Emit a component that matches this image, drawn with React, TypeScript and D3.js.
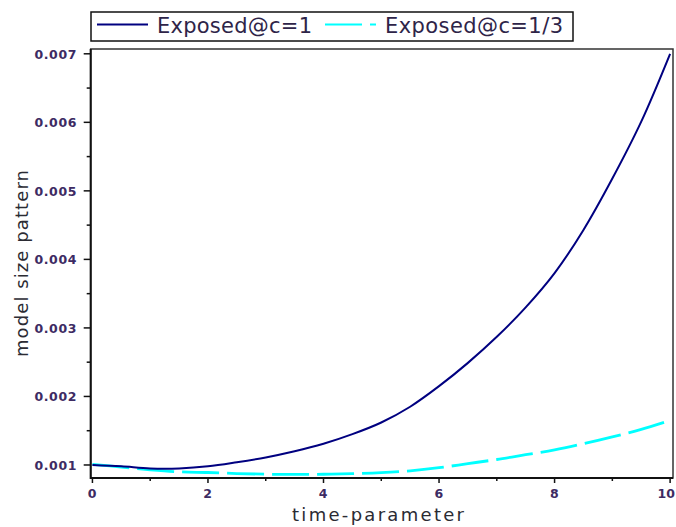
import * as d3 from 'd3';

// time-parameter sample points
const tValues = [0, 0.5, 1, 1.5, 2, 2.5, 3, 3.5, 4, 4.5, 5, 5.5, 6, 6.5, 7, 7.5, 8, 8.5, 9, 9.5, 10];
// Exposed@c=1
const exposedC1 = [
  0.001, 0.00098, 0.00095, 0.00095, 0.00098, 0.00104, 0.00111, 0.0012, 0.00131, 0.00145, 0.00162,
  0.00185, 0.00215, 0.00249, 0.00287, 0.0033, 0.0038, 0.00443, 0.00518, 0.00601, 0.007,
];
// Exposed@c=1/3
const exposedC13 = [
  0.00101, 0.00097, 0.00093, 0.0009, 0.00089, 0.000875, 0.000865, 0.000862, 0.000865, 0.000873, 0.000888,
  0.000915, 0.00096, 0.00102, 0.00108, 0.00115, 0.00122, 0.00131, 0.00141, 0.00152, 0.00165,
];
const seriesNames = ['Exposed@c=1', 'Exposed@c=1/3'];
const xTicks = [0, 2, 4, 6, 8, 10];
const xMinorTicks = [1, 3, 5, 7, 9];
const yTicks = [0.001, 0.002, 0.003, 0.004, 0.005, 0.006, 0.007];
const yMinorTicks = [0.0015, 0.0025, 0.0035, 0.0045, 0.0055, 0.0065];

const W = 676;
const H = 527;
const plot = { left: 90.7, right: 673, top: 49, bottom: 478 };
const navy = '#000080';
const cyan = '#00ffff';
const tickColor = '#3d2b63';
const font = '"DejaVu Sans", Verdana, sans-serif';

export default function App() {
  const x = d3.scaleLinear().domain([-0.03, 10.05]).range([plot.left, plot.right]);
  const y = d3.scaleLinear().domain([0.00081, 0.00707]).range([plot.bottom, plot.top]);

  const line = d3
    .line<number>()
    .x((_, i) => x(tValues[i]))
    .y((d) => y(d))
    .curve(d3.curveCatmullRom.alpha(0.5));

  return (
    <svg
      width={W}
      height={H}
      style={{ position: 'absolute', left: 0, top: 0, background: '#fff' }}
      fontFamily={font}
    >
      {/* legend */}
      <rect x={91} y={12} width={482} height={29} fill="#fff" stroke="#111" strokeWidth={1.5} />
      <line x1={97} x2={148} y1={24.5} y2={24.5} stroke={navy} strokeWidth={2} />
      <text x={157} y={33} fontSize={21} fill="#2e2448" textLength={155} lengthAdjust="spacing">
        {seriesNames[0]}
      </text>
      <line x1={325} x2={376} y1={24.5} y2={24.5} stroke={cyan} strokeWidth={2} strokeDasharray="37,8" />
      <text x={385} y={33} fontSize={21} fill="#2e2448" textLength={178} lengthAdjust="spacing">
        {seriesNames[1]}
      </text>

      {/* frame */}
      <rect
        x={plot.left}
        y={plot.top}
        width={plot.right - plot.left}
        height={plot.bottom - plot.top}
        fill="#fff"
        stroke="#333"
        strokeWidth={1.5}
      />
      <line x1={plot.left} x2={plot.left} y1={plot.top} y2={plot.bottom + 1} stroke="#111" strokeWidth={2} />
      <line x1={plot.left} x2={plot.right} y1={plot.bottom} y2={plot.bottom} stroke="#111" strokeWidth={2} />

      {/* y ticks */}
      {yTicks.map((t) => (
        <g key={t}>
          <line x1={plot.left - 7} x2={plot.left} y1={y(t)} y2={y(t)} stroke="#111" strokeWidth={1.5} />
          <text
            x={77}
            y={y(t) + 5}
            textAnchor="end"
            fontSize={12.5}
            fontWeight="bold"
            fill={tickColor}
            letterSpacing={0.6}
          >
            {d3.format('.3f')(t)}
          </text>
        </g>
      ))}
      {yMinorTicks.map((t) => (
        <line key={t} x1={plot.left - 4} x2={plot.left} y1={y(t)} y2={y(t)} stroke="#111" strokeWidth={1.5} />
      ))}

      {/* x ticks */}
      {xTicks.map((t, i) => {
        const last = i === xTicks.length - 1;
        return (
          <g key={t}>
            <line x1={x(t)} x2={x(t)} y1={plot.bottom} y2={plot.bottom + 5} stroke="#111" strokeWidth={1.5} />
            <text
              x={last ? W - 1 : x(t)}
              y={498}
              textAnchor={last ? 'end' : 'middle'}
              fontSize={12.5}
              fontWeight="bold"
              fill={tickColor}
              letterSpacing={last ? 0 : 0.6}
            >
              {t}
            </text>
          </g>
        );
      })}
      {xMinorTicks.map((t) => (
        <line key={t} x1={x(t)} x2={x(t)} y1={plot.bottom} y2={plot.bottom + 3} stroke="#111" strokeWidth={1.5} />
      ))}

      {/* curves */}
      <path d={line(exposedC13) || ''} fill="none" stroke={cyan} strokeWidth={2.8} strokeDasharray="37,8" />
      <path d={line(exposedC1) || ''} fill="none" stroke={navy} strokeWidth={2} />

      {/* axis titles */}
      <text x={378} y={521} textAnchor="middle" fontSize={18} fill="#2b2b33" textLength={172} lengthAdjust="spacing">
        time-parameter
      </text>
      <text
        transform="translate(28,263.5) rotate(-90)"
        textAnchor="middle"
        fontSize={18}
        fill="#2b2b33"
        textLength={187}
        lengthAdjust="spacing"
      >
        model size pattern
      </text>
    </svg>
  );
}
